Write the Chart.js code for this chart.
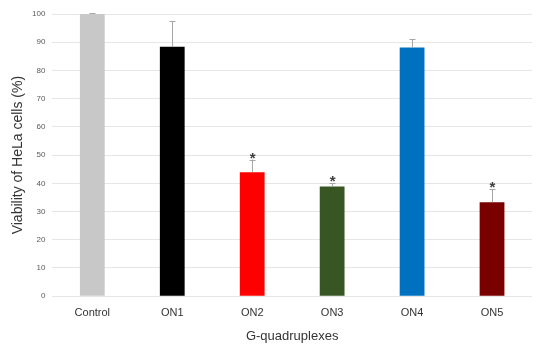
<!DOCTYPE html>
<html>
<head>
<meta charset="utf-8">
<script src="https://cdn.jsdelivr.net/npm/chart.js@4"></script>
<style>
  html, body { margin: 0; padding: 0; background: #fff; }
  #wrap { width: 550px; height: 352px; }
</style>
</head>
<body>
<div id="wrap"><canvas id="myChart"></canvas></div>
<script>
const labels = ['Control', 'ON1', 'ON2', 'ON3', 'ON4', 'ON5'];
const viability = [100, 88.4, 43.9, 38.9, 88.1, 33.3];
const errors = [0.2, 9.1, 4.5, 1.2, 2.9, 4.7];
const significant = [false, false, true, true, false, true];
const barColors = ['#c8c8c8', '#000000', '#ff0000', '#375623', '#0070c0', '#7a0000'];

// error bars + asterisks drawn on top of the bars
const errorBars = {
  id: 'errorBars',
  afterDatasetsDraw(chart) {
    const ctx = chart.ctx;
    const y = chart.scales.y;
    const meta = chart.getDatasetMeta(0);
    ctx.save();
    meta.data.forEach((bar, i) => {
      const top = y.getPixelForValue(viability[i] + errors[i]);
      const base = y.getPixelForValue(viability[i]);
      ctx.strokeStyle = '#a6a6a6';
      ctx.lineWidth = 1;
      ctx.beginPath();
      ctx.moveTo(Math.round(bar.x) + 0.5, base);
      ctx.lineTo(Math.round(bar.x) + 0.5, top);
      ctx.moveTo(Math.round(bar.x) - 2.5, Math.round(top) + 0.5);
      ctx.lineTo(Math.round(bar.x) + 3.5, Math.round(top) + 0.5);
      ctx.stroke();
      if (significant[i]) {
        ctx.fillStyle = '#404040';
        ctx.font = 'bold 15px "Liberation Sans", Arial, sans-serif';
        ctx.textAlign = 'center';
        ctx.textBaseline = 'middle';
        ctx.fillText('*', bar.x + 0.5, top - 1);
      }
    });
    ctx.restore();
  }
};

const data = {
  labels: labels,
  datasets: [{
    label: 'Viability',
    data: viability,
    backgroundColor: barColors,
    borderWidth: 0,
    barPercentage: 0.31,
    categoryPercentage: 1
  }]
};

const config = {
  type: 'bar',
  data: data,
  options: {
    responsive: true,
    maintainAspectRatio: false,
    animation: false,
    layout: { padding: { top: 14, right: 18, left: 11, bottom: 4 } },
    plugins: {
      legend: { display: false },
      tooltip: { enabled: false }
    },
    scales: {
      x: {
        grid: { display: false },
        border: { display: false },
        ticks: {
          color: '#333333',
          font: { family: '"Liberation Sans", Arial, sans-serif', size: 11 },
          padding: 2
        },
        title: {
          display: true,
          text: 'G-quadruplexes',
          color: '#333333',
          font: { family: '"Liberation Sans", Arial, sans-serif', size: 13 },
          padding: { top: 7 }
        }
      },
      y: {
        min: 0,
        max: 100,
        ticks: {
          stepSize: 10,
          color: '#595959',
          font: { family: '"Liberation Sans", Arial, sans-serif', size: 8 },
          padding: 7
        },
        grid: { color: '#e6e6e6', drawTicks: false },
        border: { display: false },
        title: {
          display: true,
          text: 'Viability of HeLa cells (%)',
          color: '#333333',
          font: { family: '"Liberation Sans", Arial, sans-serif', size: 14, lineHeight: 1 },
          padding: 0
        }
      }
    }
  },
  plugins: [errorBars]
};

const myChart = new Chart(document.getElementById('myChart'), config);
</script>
</body>
</html>
